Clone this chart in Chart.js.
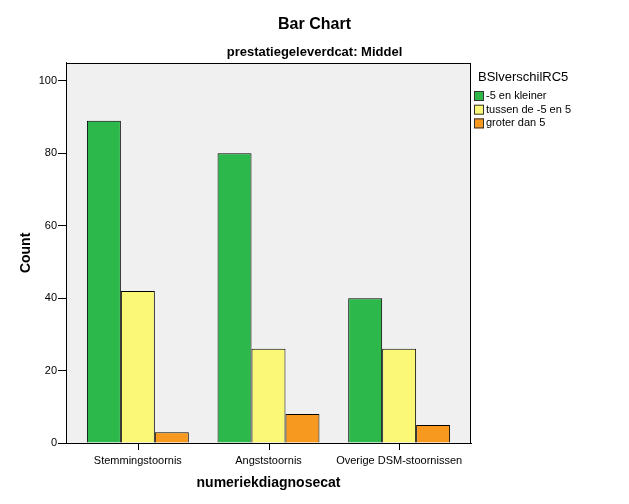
<!DOCTYPE html>
<html>
<head>
  <title>Bar Chart</title>
  <script src="https://cdn.jsdelivr.net/npm/chart.js"></script>
  <style>
    html, body { margin: 0; padding: 0; background: #fff; }
    #wrap { width: 629px; height: 504px; }
  </style>
</head>
<body>
  <div id="wrap"><canvas id="myChart" width="629" height="504"></canvas></div>

  <script>
    // Data
    var categories = ['Stemmingstoornis', 'Angststoornis', 'Overige DSM-stoornissen'];
    var seriesNames = ['-5 en kleiner', 'tussen de -5 en 5', 'groter dan 5'];
    var kleiner = [89, 80, 40];
    var tussen = [42, 26, 26];
    var groter = [3, 8, 5];
    var yTicks = [0, 20, 40, 60, 80, 100];

    var colors = ['#2db84b', '#fbf877', '#f7991e'];
    var font = 'Arial, "Liberation Sans", sans-serif';

    function points(values) {
      return values.map(function (v, i) { return { x: i, y: v }; });
    }

    var seriesValues = [kleiner, tussen, groter];
    var datasets = seriesValues.map(function (vals, k) {
      return {
        label: seriesNames[k],
        data: points(vals),
        backgroundColor: colors[k],
        borderColor: '#000',
        borderWidth: 1,
        borderSkipped: 'bottom',
        categoryPercentage: 0.78,
        barPercentage: 1.0
      };
    });

    // Grey plot background, black frame, tick marks under the categories
    var plotFrame = {
      id: 'plotFrame',
      beforeDatasetsDraw: function (chart) {
        var a = chart.chartArea, ctx = chart.ctx;
        ctx.save();
        ctx.fillStyle = '#f0f0f0';
        ctx.fillRect(a.left, a.top, a.right - a.left, a.bottom - a.top);
        ctx.restore();
      },
      afterDraw: function (chart) {
        var a = chart.chartArea, ctx = chart.ctx;
        var xs = chart.scales.x;
        ctx.save();
        ctx.strokeStyle = '#000';
        ctx.lineWidth = 1;
        ctx.strokeRect(Math.round(a.left) + 0.5, Math.round(a.top) + 0.5,
          Math.round(a.right - a.left) - 1, Math.round(a.bottom - a.top));
        ctx.fillStyle = '#000';
        categories.forEach(function (c, i) {
          var px = Math.round(xs.getPixelForValue(i));
          ctx.fillRect(px, Math.round(a.bottom), 1, 7);
        });
        ctx.restore();
      }
    };

    // Legend on the right, SPSS style
    var sideLegend = {
      id: 'sideLegend',
      afterDraw: function (chart) {
        var ctx = chart.ctx;
        var x = chart.chartArea.right + 2;
        ctx.save();
        ctx.fillStyle = '#000';
        ctx.textBaseline = 'middle';
        ctx.font = '13px ' + font;
        ctx.fillText('BSlverschilRC5', x + 5, 77);
        ctx.font = '11px ' + font;
        chart.data.datasets.forEach(function (ds, i) {
          var cy = 96 + i * 13.7;
          ctx.fillStyle = ds.backgroundColor;
          ctx.fillRect(x + 1, cy - 5, 10, 10);
          ctx.strokeStyle = '#333';
          ctx.lineWidth = 1;
          ctx.strokeRect(x + 1.5, cy - 4.5, 9, 9);
          ctx.fillStyle = '#000';
          ctx.fillText(ds.label, x + 13, cy);
        });
        ctx.restore();
      }
    };

    var ctx = document.getElementById('myChart').getContext('2d');
    var myChart = new Chart(ctx, {
      type: 'bar',
      data: { datasets: datasets },
      plugins: [plotFrame, sideLegend],
      options: {
        responsive: false,
        animation: false,
        layout: { padding: 0 },
        plugins: {
          legend: { display: false },
          tooltip: { enabled: false },
          title: {
            display: true,
            text: 'Bar Chart',
            color: '#000',
            font: { family: font, size: 16, weight: 'bold' },
            padding: { top: 15, bottom: 10 }
          },
          subtitle: {
            display: true,
            text: 'prestatiegeleverdcat: Middel',
            color: '#000',
            font: { family: font, size: 13, weight: 'bold' },
            padding: { top: 0, bottom: 3 }
          }
        },
        scales: {
          x: {
            type: 'linear',
            min: -0.55,
            max: 2.55,
            offset: false,
            afterFit: function (scale) { scale.height = 61; },
            afterBuildTicks: function (scale) {
              scale.ticks = categories.map(function (c, i) { return { value: i }; });
            },
            ticks: {
              color: '#000',
              font: { family: font, size: 11 },
              padding: 3,
              autoSkip: false,
              maxRotation: 0,
              callback: function (v) { return categories[v]; }
            },
            grid: { display: false },
            border: { display: true, color: '#000' },
            title: {
              display: true,
              text: 'numeriekdiagnosecat',
              color: '#000',
              font: { family: font, size: 14, weight: 'bold' },
              padding: { top: 0, bottom: 12 }
            }
          },
          y: {
            min: 0,
            max: 105,
            afterFit: function (scale) { scale.width = 66; },
            afterBuildTicks: function (scale) {
              scale.ticks = yTicks.map(function (v) { return { value: v }; });
            },
            ticks: {
              color: '#000',
              font: { family: font, size: 11 },
              padding: 1
            },
            grid: { drawOnChartArea: false, drawTicks: true, tickLength: 8, color: '#000' },
            border: { display: true, color: '#000' },
            title: {
              display: true,
              text: 'Count',
              color: '#000',
              font: { family: font, size: 14, weight: 'bold' },
              padding: { top: 18, bottom: 0 }
            }
          },
          // empty right-hand scale that reserves room for the legend
          legendSpace: {
            position: 'right',
            display: true,
            min: 0,
            max: 1,
            afterFit: function (scale) { scale.width = 158; },
            afterBuildTicks: function (scale) { scale.ticks = []; },
            ticks: { display: false },
            grid: { display: false, drawTicks: false },
            border: { display: false }
          }
        }
      }
    });
  </script>
</body>
</html>
